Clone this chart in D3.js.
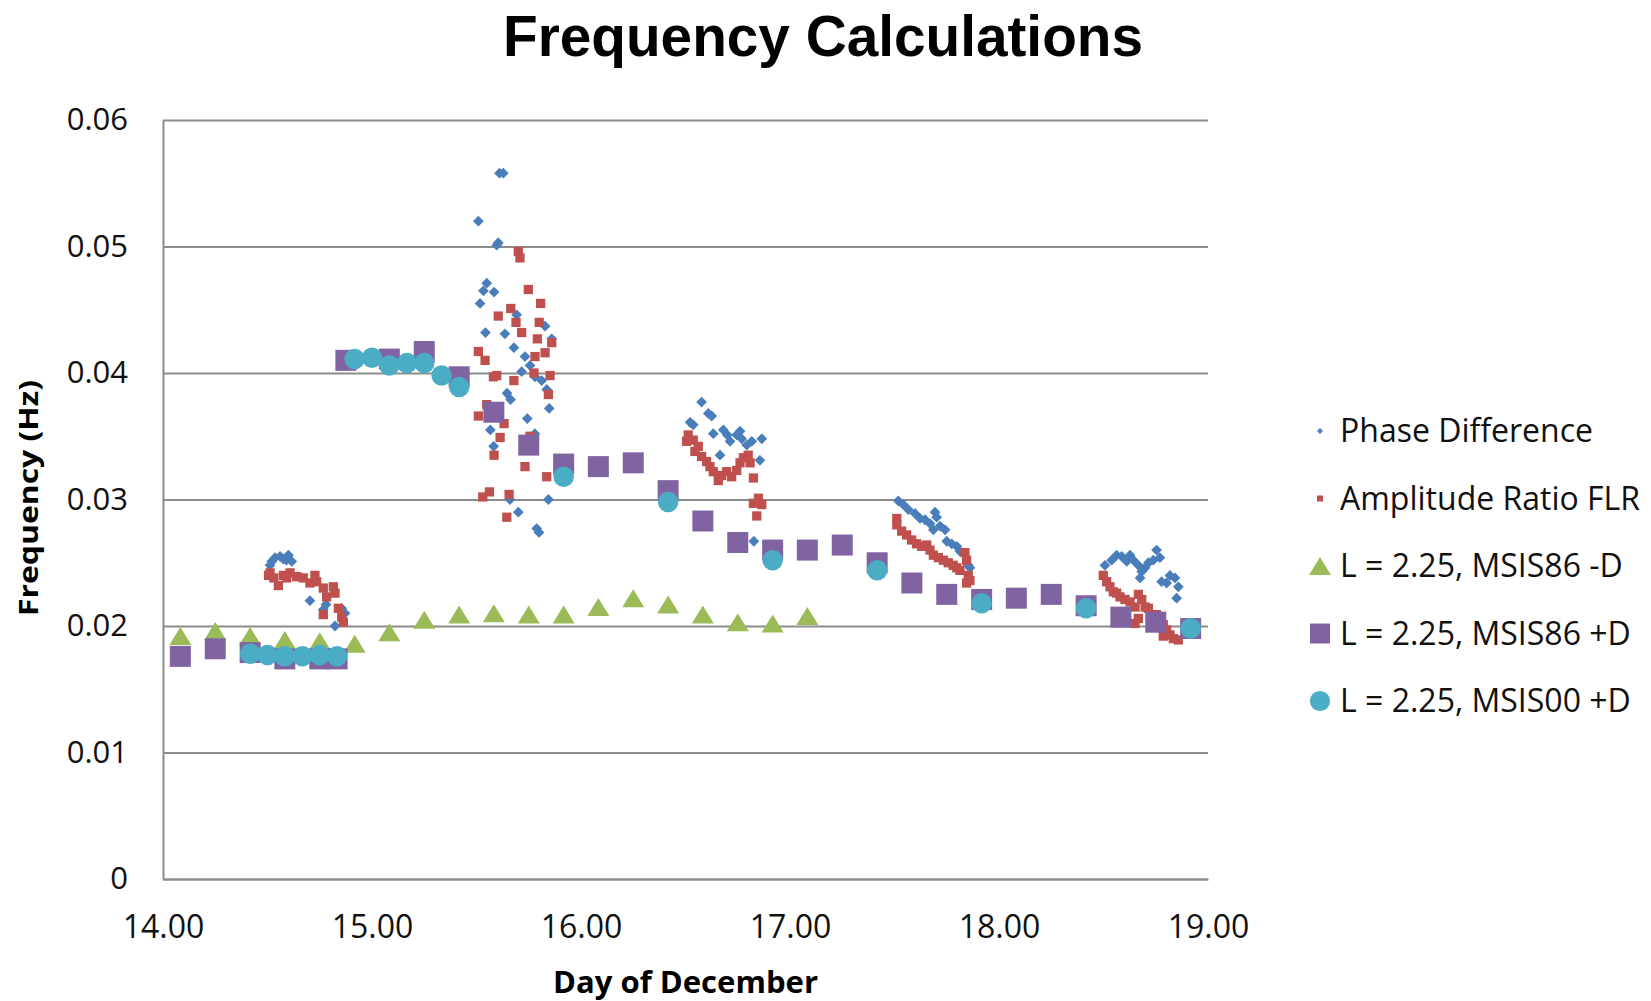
<!DOCTYPE html>
<html>
<head>
<meta charset="utf-8">
<script src="https://cdn.jsdelivr.net/npm/d3@7"></script>
<style>
  body { margin: 0; background: #fff; }
  svg { display: block; font-family: "Open Sans", "DejaVu Sans", sans-serif; }
</style>
</head>
<body>
<div id="chart"></div>
<script>
// values: [day of December, frequency (Hz)]
var phaseDiff = [
  [14.512,0.0248],[14.520,0.0251],[14.536,0.0254],[14.560,0.0255],[14.575,0.0253],[14.590,0.0252],[14.600,0.0256],[14.616,0.0251],
  [14.703,0.0220],[14.767,0.0213],[14.780,0.0217],[14.823,0.0200],[14.855,0.0214],[14.871,0.0210],
  [15.509,0.0520],[15.517,0.0455],[15.533,0.0465],[15.543,0.0432],[15.549,0.0471],[15.566,0.0355],[15.582,0.0342],[15.584,0.0464],
  [15.597,0.0501],[15.604,0.0503],[15.610,0.0558],[15.628,0.0558],[15.636,0.0431],[15.646,0.0384],[15.660,0.0300],[15.663,0.0379],
  [15.679,0.0420],[15.692,0.0446],[15.700,0.0290],[15.716,0.0401],[15.732,0.0413],[15.743,0.0364],[15.756,0.0406],[15.779,0.0352],
  [15.780,0.0397],[15.788,0.0277],[15.799,0.0274],[15.812,0.0394],[15.828,0.0437],[15.836,0.0387],[15.844,0.0300],[15.848,0.0372],
  [15.860,0.0427],
  [16.522,0.0361],[16.537,0.0359],[16.577,0.0377],[16.609,0.0368],[16.625,0.0366],[16.633,0.0352],[16.665,0.0335],[16.681,0.0355],
  [16.700,0.0351],[16.713,0.0346],[16.745,0.0351],[16.761,0.0354],[16.769,0.0348],[16.793,0.0343],[16.817,0.0346],[16.827,0.0267],
  [16.856,0.0331],[16.865,0.0348],
  [17.518,0.0299],[17.542,0.0296],[17.566,0.0292],[17.598,0.0289],[17.622,0.0285],[17.646,0.0284],[17.670,0.0281],[17.686,0.0276],
  [17.694,0.0290],[17.702,0.0286],[17.718,0.0279],[17.742,0.0276],[17.750,0.0267],[17.774,0.0265],[17.798,0.0263],[17.813,0.0259],
  [17.853,0.0248],[17.861,0.0246],
  [18.507,0.0248],[18.539,0.0252],[18.563,0.0256],[18.587,0.0255],[18.611,0.0251],[18.627,0.0256],[18.643,0.0252],[18.667,0.0248],
  [18.675,0.0238],[18.683,0.0243],[18.699,0.0246],[18.715,0.0250],[18.738,0.0252],[18.754,0.0260],[18.770,0.0254],[18.778,0.0235],
  [18.802,0.0234],[18.818,0.0240],[18.842,0.0238],[18.850,0.0222],[18.858,0.0231]
];

var ampRatio = [
  [14.505,0.0240],[14.512,0.0242],[14.530,0.0238],[14.552,0.0232],[14.576,0.0240],[14.592,0.0238],[14.608,0.0242],[14.640,0.0239],
  [14.671,0.0238],[14.703,0.0234],[14.727,0.0240],[14.735,0.0235],[14.767,0.0230],[14.783,0.0223],[14.815,0.0231],[14.823,0.0226],
  [14.767,0.0209],[14.839,0.0214],[14.855,0.0207],[14.863,0.0203],
  [15.509,0.0417],[15.509,0.0366],[15.530,0.0302],[15.541,0.0410],[15.549,0.0375],[15.562,0.0306],[15.581,0.0397],[15.584,0.0335],
  [15.597,0.0398],[15.604,0.0445],[15.613,0.0349],[15.632,0.0360],[15.645,0.0286],[15.656,0.0304],[15.664,0.0451],[15.679,0.0394],
  [15.689,0.0440],[15.700,0.0496],[15.708,0.0491],[15.716,0.0432],[15.732,0.0326],[15.748,0.0466],[15.756,0.0350],[15.775,0.0400],
  [15.780,0.0413],[15.791,0.0427],[15.800,0.0440],[15.807,0.0455],[15.828,0.0416],[15.836,0.0318],[15.844,0.0383],[15.852,0.0398],
  [15.860,0.0424],
  [16.505,0.0346],[16.513,0.0351],[16.537,0.0347],[16.545,0.0338],[16.561,0.0342],[16.577,0.0334],[16.601,0.0330],[16.617,0.0326],
  [16.633,0.0322],[16.657,0.0315],[16.673,0.0319],[16.697,0.0322],[16.721,0.0318],[16.745,0.0323],[16.761,0.0329],[16.777,0.0333],
  [16.800,0.0335],[16.809,0.0329],[16.825,0.0317],[16.825,0.0297],[16.841,0.0287],[16.849,0.0301],[16.865,0.0296],
  [17.511,0.0285],[17.511,0.0280],[17.534,0.0275],[17.558,0.0272],[17.582,0.0268],[17.606,0.0265],[17.630,0.0263],[17.654,0.0264],
  [17.670,0.0260],[17.686,0.0256],[17.710,0.0254],[17.734,0.0252],[17.757,0.0250],[17.781,0.0248],[17.798,0.0246],[17.813,0.0244],
  [17.837,0.0258],[17.845,0.0252],[17.845,0.0234],[17.853,0.0240],[17.861,0.0236],
  [18.499,0.0240],[18.515,0.0235],[18.531,0.0231],[18.547,0.0227],[18.563,0.0226],[18.579,0.0223],[18.603,0.0221],[18.627,0.0219],
  [18.651,0.0215],[18.651,0.0202],[18.667,0.0225],[18.667,0.0206],[18.683,0.0221],[18.699,0.0215],[18.715,0.0214],[18.754,0.0209],
  [18.770,0.0205],[18.786,0.0201],[18.786,0.0192],[18.802,0.0197],[18.818,0.0193],[18.834,0.0190],[18.858,0.0189]
];

var msis86NoD = [
  [14.083,0.0192],[14.250,0.0196],[14.417,0.0192],[14.583,0.0189],[14.750,0.0188],[14.917,0.0186],[15.083,0.0195],
  [15.250,0.0205],[15.417,0.0209],[15.583,0.0210],[15.750,0.0209],[15.917,0.0209],[16.083,0.0215],[16.250,0.0222],
  [16.417,0.0217],[16.583,0.0209],[16.750,0.0203],[16.917,0.0202],[17.083,0.0208]
];

var msis86D = [
  [14.083,0.0176],[14.250,0.0182],[14.417,0.0179],[14.583,0.0174],[14.750,0.0174],[14.833,0.0174],[14.875,0.0410],
  [15.083,0.0411],[15.250,0.0417],[15.417,0.0397],[15.583,0.0369],[15.750,0.0343],[15.917,0.0328],[16.083,0.0326],
  [16.250,0.0329],[16.417,0.0307],[16.583,0.0283],[16.750,0.0266],[16.917,0.0260],[17.083,0.0260],[17.250,0.0264],
  [17.417,0.0250],[17.583,0.0234],[17.750,0.0225],[17.917,0.0221],[18.083,0.0222],[18.250,0.0225],[18.417,0.0216],
  [18.583,0.0207],[18.750,0.0203],[18.917,0.0198]
];

var msis00D = [
  [14.417,0.0178],[14.500,0.0177],[14.583,0.0176],[14.667,0.0176],[14.750,0.0177],[14.833,0.0176],[14.917,0.0411],
  [15.000,0.0412],[15.083,0.0406],[15.167,0.0408],[15.250,0.0408],[15.333,0.0398],[15.417,0.0389],[15.917,0.0318],
  [16.417,0.0298],[16.917,0.0252],[17.417,0.0244],[17.917,0.0218],[18.417,0.0214],[18.917,0.0198]
];

var xTicks = [14, 15, 16, 17, 18, 19];
var yTicks = [0, 0.01, 0.02, 0.03, 0.04, 0.05, 0.06];
var seriesNames = ["Phase Difference", "Amplitude Ratio FLR", "L = 2.25, MSIS86 -D", "L = 2.25, MSIS86 +D", "L = 2.25, MSIS00 +D"];

var width = 1651, height = 1001;
var plot = { left: 163, right: 1208, top: 120, bottom: 879 };

var svg = d3.select("#chart").append("svg")
    .attr("width", width)
    .attr("height", height);

var x = d3.scaleLinear().domain([14, 19]).range([plot.left, plot.right]);
var y = d3.scaleLinear().domain([0, 0.06]).range([plot.bottom, plot.top]);

// triangle centred on its bounding box, like the spreadsheet marker
function triangle(w, h) {
  return {
    draw: function(context) {
      context.moveTo(0, -h / 2);
      context.lineTo(w / 2, h / 2);
      context.lineTo(-w / 2, h / 2);
      context.closePath();
    }
  };
}

var series = [
  { name: seriesNames[0], data: phaseDiff, color: "#4A7EBB", type: d3.symbolSquare, size: 58, rotate: 45, legendSize: 18 },
  { name: seriesNames[1], data: ampRatio,  color: "#C0504D", type: d3.symbolSquare, size: 86, rotate: 0, legendSize: 36 },
  { name: seriesNames[2], data: msis86NoD, color: "#9BBB59", type: triangle(22, 18), size: 1, rotate: 0, legendSize: 1 },
  { name: seriesNames[3], data: msis86D,   color: "#8064A2", type: d3.symbolSquare, size: 441, rotate: 0, legendSize: 400 },
  { name: seriesNames[4], data: msis00D,   color: "#4BACC6", type: d3.symbolCircle, size: 330, rotate: 0, legendSize: 320 }
];

// gridlines
svg.append("g")
    .attr("class", "grid")
    .attr("transform", "translate(" + plot.left + ",0)")
    .call(d3.axisLeft(y).tickValues(yTicks).tickSize(-(plot.right - plot.left)).tickFormat(""))
    .call(function(g) { g.select(".domain").remove(); })
    .selectAll("line")
    .attr("stroke", "#8c8c8c")
    .attr("stroke-width", 2);

// y axis
var yAxis = svg.append("g")
    .attr("transform", "translate(" + plot.left + ",0)")
    .call(d3.axisLeft(y).tickValues(yTicks).tickSize(0).tickPadding(35)
      .tickFormat(function(d) { return d === 0 ? "0" : d3.format(".2f")(d); }));
yAxis.select(".domain").attr("stroke", "#8c8c8c").attr("stroke-width", 2);
yAxis.selectAll("text")
    .attr("fill", "#111")
    .style("font-size", "31px")
    .style("font-family", "'Open Sans', sans-serif");

// x axis
var xAxis = svg.append("g")
    .attr("transform", "translate(0," + plot.bottom + ")")
    .call(d3.axisBottom(x).tickValues(xTicks).tickSize(0).tickPadding(36).tickFormat(d3.format(".2f")));
xAxis.select(".domain").attr("stroke", "#8c8c8c").attr("stroke-width", 2);
xAxis.selectAll("text")
    .attr("fill", "#111")
    .style("font-size", "32px")
    .style("font-family", "'Open Sans', sans-serif");

// markers
series.forEach(function(s) {
  svg.append("g")
    .selectAll("path")
    .data(s.data)
    .enter().append("path")
      .attr("d", d3.symbol().type(s.type).size(s.size))
      .attr("transform", function(d) {
        return "translate(" + x(d[0]) + "," + y(d[1]) + ") rotate(" + s.rotate + ")";
      })
      .attr("fill", s.color);
});

// titles
svg.append("text")
    .attr("x", 823)
    .attr("y", 56)
    .attr("text-anchor", "middle")
    .attr("textLength", 640)
    .attr("lengthAdjust", "spacingAndGlyphs")
    .style("font-family", "'Liberation Sans', Arial, sans-serif")
    .style("font-size", "58px")
    .style("font-weight", "bold")
    .text("Frequency Calculations");

svg.append("text")
    .attr("x", (plot.left + plot.right) / 2)
    .attr("y", 993)
    .attr("text-anchor", "middle")
    .attr("textLength", 265)
    .attr("lengthAdjust", "spacingAndGlyphs")
    .style("font-size", "31px")
    .style("font-weight", "bold")
    .text("Day of December");

svg.append("text")
    .attr("transform", "translate(38,498) rotate(-90)")
    .attr("text-anchor", "middle")
    .attr("textLength", 236)
    .attr("lengthAdjust", "spacingAndGlyphs")
    .style("font-size", "27px")
    .style("font-weight", "bold")
    .text("Frequency (Hz)");

// legend
var legend = svg.append("g")
    .selectAll("g")
    .data(series)
    .enter().append("g")
      .attr("transform", function(d, i) { return "translate(1320," + (431 + i * 67.5) + ")"; });

legend.append("path")
    .attr("d", function(d) { return d3.symbol().type(d.type).size(d.legendSize)(); })
    .attr("transform", function(d) { return "rotate(" + d.rotate + ")"; })
    .attr("fill", function(d) { return d.color; });

legend.append("text")
    .attr("x", 20)
    .attr("dy", "0.35em")
    .attr("fill", "#111")
    .style("font-size", "32px")
    .text(function(d) { return d.name; });
</script>
</body>
</html>
